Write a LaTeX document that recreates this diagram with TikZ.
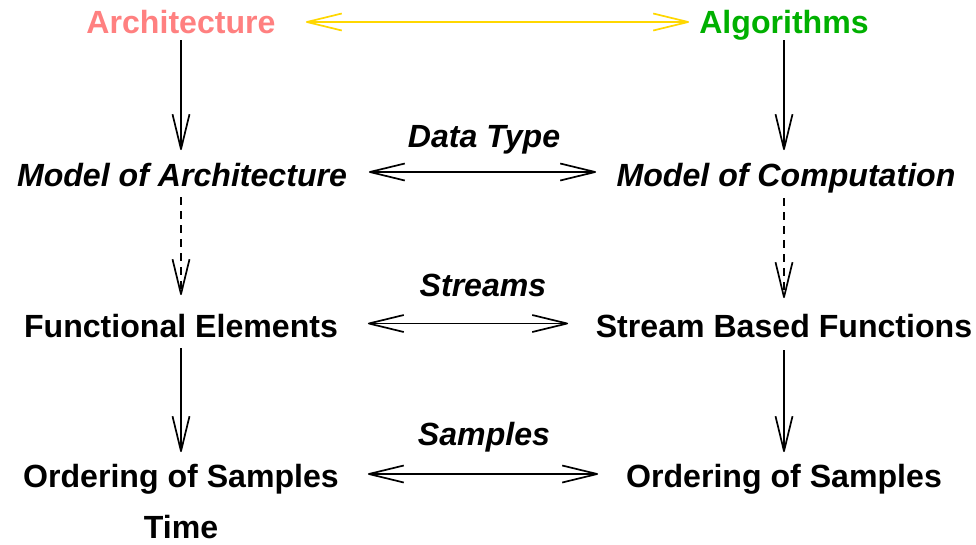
\documentclass[tikz,border=0pt]{standalone}
\usepackage{fontspec}
\setmainfont{Liberation Sans}
\usetikzlibrary{arrows.meta}
\definecolor{archpink}{RGB}{255,128,128}
\definecolor{algogreen}{RGB}{0,176,0}
\definecolor{linkgold}{RGB}{255,215,0}

% open stick arrowhead: two strokes meeting at the tip, no base
\pgfdeclarearrow{
  name = StickHead,
  setup code = {
    \pgfarrowssettipend{0.8pt}
    \pgfarrowssetlineend{-1pt}
    \pgfarrowsupperhullpoint{-35pt}{8.5pt}
    \pgfarrowsupperhullpoint{0.8pt}{0pt}
  },
  drawing code = {
    \pgfsetdash{}{0pt}
    \pgfsetlinewidth{1.7pt}
    \pgfsetroundjoin
    \pgfsetbuttcap
    \pgfpathmoveto{\pgfqpoint{-35pt}{8.5pt}}
    \pgfpathlineto{\pgfqpoint{0pt}{0pt}}
    \pgfpathlineto{\pgfqpoint{-35pt}{-8.5pt}}
    \pgfusepathqstroke
  },
  defaults = {}
}

\begin{document}
\begin{tikzpicture}[x=1pt,y=-1pt,
  lbl/.style={anchor=base,inner sep=0pt,font=\fontsize{32.1}{36}\selectfont\bfseries},
  ilbl/.style={lbl,font=\fontsize{32.1}{36}\selectfont\bfseries\itshape},
  stick/.style={line width=1.2pt,-StickHead},
  twostick/.style={line width=1.2pt,StickHead-StickHead},
  dashedlink/.style={stick,dash pattern=on 8pt off 6pt}]
\useasboundingbox (0,0) rectangle (976,544);

% top row
\node[lbl,text=archpink] (arch) at (181,33) {Architecture};
\node[lbl,text=algogreen] (algo) at (784,33) {Algorithms};
\coordinate (tl) at (306,22);
\coordinate (tr) at (689,22);
\draw[twostick,draw=linkgold] (tl) -- (tr);

% models
\node[ilbl] (moa) at (182,186) {Model of Architecture};
\node[ilbl] (moc) at (786,186) {Model of Computation};
\node[ilbl] (dtype) at (484,147) {Data Type};
\coordinate (ml) at (369,172);
\coordinate (mr) at (596,172);
\draw[twostick] (ml) -- (mr);

% functional level
\node[lbl] (fe) at (181,337) {Functional Elements};
\node[lbl] (sbf) at (784,337) {Stream Based Functions};
\node[ilbl] (streams) at (483,296) {Streams};
\coordinate (fl) at (368,323.5);
\coordinate (fr) at (568,323.5);
\draw[twostick] (fl) -- (fr);

% sample ordering
\node[lbl] (osl) at (181,487) {Ordering of Samples};
\node[lbl] (osr) at (784,487) {Ordering of Samples};
\node[ilbl] (samples) at (484,445) {Samples};
\node[lbl] (time) at (181,538.5) {Time};
\coordinate (ol) at (368,474);
\coordinate (or) at (598,474);
\draw[twostick] (ol) -- (or);

% vertical links, left column
\coordinate (a1) at (181,40);
\coordinate (a2) at (181,150);
\draw[stick] (a1) -- (a2);
\coordinate (a3) at (181,197);
\coordinate (a4) at (181,295);
\draw[dashedlink] (a3) -- (a4);
\coordinate (a5) at (181,348);
\coordinate (a6) at (181,452);
\draw[stick] (a5) -- (a6);

% vertical links, right column
\coordinate (b1) at (784,40);
\coordinate (b2) at (784,150);
\draw[stick] (b1) -- (b2);
\coordinate (b3) at (784,198);
\coordinate (b4) at (784,298);
\draw[dashedlink] (b3) -- (b4);
\coordinate (b5) at (784,350);
\coordinate (b6) at (784,452);
\draw[stick] (b5) -- (b6);
\end{tikzpicture}
\end{document}
